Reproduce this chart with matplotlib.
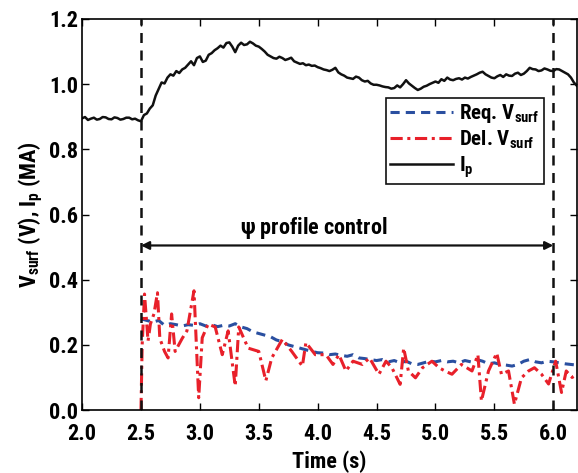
import numpy as np
import matplotlib
matplotlib.use('Agg')
from matplotlib import pyplot as plt
from matplotlib import font_manager

# plasma current Ip (MA), every 0.025 s from 2.0 to 6.2
ip = [0.895, 0.899, 0.890, 0.894, 0.897, 0.891, 0.893, 0.899, 0.898, 0.893,
      0.892, 0.898, 0.896, 0.891, 0.893, 0.897, 0.897, 0.892, 0.894, 0.889,
      0.886, 0.905, 0.910, 0.925, 0.935, 0.965, 0.985, 1.005, 1.002, 1.020,
      1.030, 1.026, 1.040, 1.034, 1.045, 1.050, 1.060, 1.070, 1.058, 1.080,
      1.085, 1.068, 1.072, 1.090, 1.095, 1.104, 1.110, 1.118, 1.112, 1.126,
      1.128, 1.115, 1.098, 1.118, 1.127, 1.120, 1.122, 1.130, 1.125, 1.118,
      1.115, 1.108, 1.100, 1.090, 1.085, 1.080, 1.078, 1.084, 1.080, 1.074,
      1.077, 1.081, 1.070, 1.066, 1.062, 1.064, 1.058, 1.060, 1.056, 1.057,
      1.052, 1.049, 1.045, 1.043, 1.040, 1.044, 1.050, 1.036, 1.030, 1.026,
      1.020, 1.018, 1.016, 1.023, 1.020, 1.012, 1.008, 1.010, 1.002, 0.998,
      0.998, 0.996, 0.993, 0.991, 0.990, 0.986, 0.988, 0.996, 0.990, 1.000,
      1.012, 1.002, 0.995, 0.988, 0.982, 0.986, 0.992, 0.995, 1.000, 1.004,
      1.008, 1.004, 1.015, 1.010, 1.020, 1.014, 1.012, 1.016, 1.018, 1.014,
      1.020, 1.017, 1.022, 1.026, 1.030, 1.035, 1.038, 1.030, 1.025, 1.020,
      1.018, 1.024, 1.028, 1.022, 1.030, 1.026, 1.025, 1.032, 1.035, 1.028,
      1.032, 1.040, 1.050, 1.046, 1.045, 1.040, 1.042, 1.048, 1.045, 1.041,
      1.040, 1.046, 1.045, 1.040, 1.035, 1.030, 1.020, 1.005, 0.995]
t_ip = np.linspace(2.0, 6.2, len(ip))

# requested surface voltage (V), every 0.05 s from 2.5 to 6.2
v_req = [0.280, 0.275, 0.270, 0.275, 0.260, 0.265, 0.262, 0.258, 0.262, 0.260,
         0.265, 0.258, 0.262, 0.256, 0.260, 0.258, 0.265, 0.255, 0.250, 0.240,
         0.235, 0.230, 0.225, 0.215, 0.210, 0.200, 0.195, 0.190, 0.185, 0.180,
         0.176, 0.175, 0.170, 0.172, 0.168, 0.165, 0.170, 0.160, 0.158, 0.155,
         0.152, 0.155, 0.148, 0.152, 0.145, 0.150, 0.142, 0.140, 0.145, 0.150,
         0.148, 0.152, 0.148, 0.150, 0.145, 0.152, 0.148, 0.155, 0.150, 0.142,
         0.145, 0.140, 0.138, 0.135, 0.140, 0.150, 0.155, 0.148, 0.145, 0.150,
         0.148, 0.145, 0.142, 0.140, 0.138]
t_req = np.linspace(2.5, 6.2, len(v_req))

# delivered surface voltage (V)
t_del = [2.50, 2.51, 2.53, 2.56, 2.58, 2.61, 2.64, 2.66, 2.70, 2.73, 2.76, 2.79,
         2.85, 2.89, 2.95, 2.99, 3.02, 3.07, 3.13, 3.19, 3.24, 3.30, 3.33, 3.41,
         3.50, 3.56, 3.61, 3.70, 3.78, 3.87, 3.90, 3.98, 4.07, 4.13, 4.18, 4.24,
         4.30, 4.38, 4.44, 4.52, 4.58, 4.63, 4.70, 4.73, 4.77, 4.83, 4.89, 4.97,
         5.03, 5.08, 5.14, 5.22, 5.31, 5.36, 5.39, 5.45, 5.52, 5.56, 5.62, 5.67,
         5.73, 5.79, 5.84, 5.90, 5.96, 6.02, 6.07, 6.11, 6.16, 6.20]
v_del = [0.00, 0.20, 0.356, 0.212, 0.264, 0.295, 0.360, 0.220, 0.180, 0.160, 0.295, 0.180,
         0.220, 0.243, 0.366, 0.038, 0.222, 0.264, 0.255, 0.170, 0.243, 0.074, 0.255, 0.190,
         0.180, 0.090, 0.160, 0.217, 0.180, 0.135, 0.207, 0.170, 0.170, 0.140, 0.170, 0.120,
         0.150, 0.140, 0.160, 0.110, 0.150, 0.130, 0.079, 0.190, 0.120, 0.099, 0.130, 0.150,
         0.130, 0.120, 0.110, 0.140, 0.120, 0.170, 0.028, 0.120, 0.175, 0.110, 0.120, 0.018,
         0.099, 0.120, 0.130, 0.110, 0.080, 0.150, 0.054, 0.120, 0.100, 0.110]

names = {f.name for f in font_manager.fontManager.ttflist}
fam = 'Liberation Sans'
for cand in ['Liberation Sans Narrow', 'Roboto Condensed', 'Arial Narrow']:
    if cand in names:
        fam = cand
        break
plt.rcParams['font.family'] = [fam, 'DejaVu Sans']
plt.rcParams['font.weight'] = 'bold'
plt.rcParams['mathtext.fontset'] = 'custom'
plt.rcParams['mathtext.rm'] = fam + ':bold'
plt.rcParams['mathtext.it'] = fam + ':bold'
plt.rcParams['mathtext.bf'] = fam + ':bold'
plt.rcParams['mathtext.default'] = 'bf'

fig = plt.figure(figsize=(5.78, 4.73), dpi=100)
ax = fig.add_axes([0.142, 0.133, 0.856, 0.827])

ax.plot(t_req, v_req, ls=(0, (3, 2)), color='#2a4fa0', lw=2.2, label=r'Req. V$_{surf}$')
ax.plot(t_del, v_del, ls=(0, (4, 1.5, 1, 1.5)), color='#e8202a', lw=2.2, label=r'Del. V$_{surf}$')
ax.plot(t_ip, ip, color='#111111', lw=1.8, label=r'I$_p$')

for tv in [2.5, 6.0]:
    ax.axvline(tv, color='#111111', ls=(0, (4, 3)), lw=1.8)

ax.annotate('', xy=(2.5, 0.505), xytext=(6.0, 0.505),
            arrowprops=dict(arrowstyle='<|-|>', color='#111111', lw=1.6,
                            shrinkA=0, shrinkB=0, mutation_scale=12))
ax.text(3.97, 0.56, r'$\psi$ profile control', ha='center', va='center',
        fontsize=16, fontweight='bold')

ax.set_xlim(2.0, 6.2)
ax.set_ylim(0.0, 1.2)
ax.set_xticks(np.arange(2.0, 6.01, 0.5))
ax.set_yticks(np.arange(0.0, 1.21, 0.2))
ax.set_xticklabels([f'{v:.1f}' for v in np.arange(2.0, 6.01, 0.5)])
ax.set_yticklabels([f'{v:.1f}' for v in np.arange(0.0, 1.21, 0.2)])
ax.tick_params(direction='in', top=True, right=True, labelsize=16, length=5, width=1)
ax.tick_params(axis='x', pad=9)
ax.tick_params(axis='y', pad=3)
for s in ax.spines.values():
    s.set_linewidth(1.2)
ax.set_xlabel('Time (s)', fontsize=16, fontweight='bold', labelpad=4)
ax.set_ylabel(r'V$_{surf}$ (V), I$_p$ (MA)', fontsize=16, fontweight='bold', labelpad=3)

leg = ax.legend(loc='upper right', bbox_to_anchor=(0.933, 0.797), fontsize=15,
                fancybox=False, framealpha=1, edgecolor='#111111',
                handlelength=3.0, handletextpad=0.3, labelspacing=0.15,
                borderpad=0.2, borderaxespad=0)
leg.get_frame().set_linewidth(1.2)

plt.savefig('out.png', dpi=100)
